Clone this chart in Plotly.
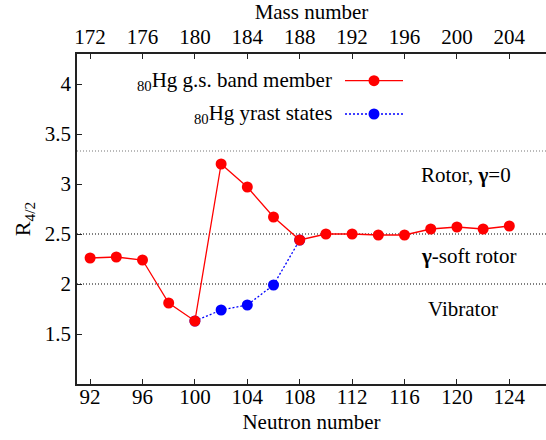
import plotly.graph_objects as go

# Data
neutrons_gs = [92, 94, 96, 98, 100, 102, 104, 106, 108, 110, 112, 114, 116, 118, 120, 122, 124]
r42_gs = [2.26, 2.27, 2.24, 1.81, 1.63, 3.20, 2.97, 2.67, 2.44, 2.50, 2.50, 2.49, 2.49, 2.55, 2.57, 2.55, 2.58]
neutrons_yrast = [100, 102, 104, 106, 108]
r42_yrast = [1.63, 1.74, 1.79, 1.99, 2.44]
Z = 80
ref_levels = [3.33, 2.5, 2.0]
ref_colors = ["#777777", "black", "black"]
region_labels = ["Rotor, <b>γ</b>=0", "<b>γ</b>-soft rotor", "Vibrator"]
region_x = [120.7, 120.9, 120.5]
region_y = [3.09, 2.28, 1.75]
legend_names = ["<sub>80</sub>Hg g.s. band member", "<sub>80</sub>Hg yrast states"]

FONT = "Liberation Serif, Times New Roman, serif"
FS = 21
W, H = 546, 440
ml, mr, mt, mb = 77, 0, 54, 56
xr = [91, 126.8]
yr = [1.0, 4.3]

fig = go.Figure()
fig.add_trace(go.Scatter(x=neutrons_yrast, y=r42_yrast, mode="lines+markers",
                         line=dict(color="blue", width=1.3, dash="2px,2px"),
                         marker=dict(color="blue", size=11), showlegend=False))
fig.add_trace(go.Scatter(x=neutrons_gs, y=r42_gs, mode="lines+markers",
                         line=dict(color="red", width=1.3),
                         marker=dict(color="red", size=11), showlegend=False))
# invisible trace to activate top (mass number) axis
fig.add_trace(go.Scatter(x=[n + Z for n in neutrons_gs], y=r42_gs, xaxis="x2",
                         mode="markers", marker=dict(opacity=0), hoverinfo="skip",
                         showlegend=False))

shapes = []
for lv, c in zip(ref_levels, ref_colors):
    shapes.append(dict(type="line", xref="paper", yref="y", x0=0, x1=1, y0=lv, y1=lv,
                       line=dict(color=c, width=1.1, dash="1px,2px"), layer="below"))

# manual legend (text left of symbol)
pw = W - ml - mr
ph = H - mt - mb
def px2x(p):
    return (p - ml) / pw
def py2y(p):
    return (H - mb - p) / ph

leg_rows = [80.7, 114]
leg_styles = [("red", "solid"), ("blue", "2px,2px")]
annotations = []
for name, row, (col, dash) in zip(legend_names, leg_rows, leg_styles):
    yy = py2y(row)
    shapes.append(dict(type="line", xref="paper", yref="paper", x0=px2x(345), x1=px2x(403),
                       y0=yy, y1=yy, line=dict(color=col, width=1.3, dash=dash)))
    shapes.append(dict(type="circle", xref="paper", yref="paper", xsizemode="pixel",
                       ysizemode="pixel", xanchor=px2x(374), yanchor=yy,
                       x0=-5.5, x1=5.5, y0=-5.5, y1=5.5,
                       fillcolor=col, line=dict(color=col, width=0)))
    annotations.append(dict(text=name, xref="paper", yref="paper", x=px2x(334), y=yy,
                            xanchor="right", yanchor="middle", showarrow=False,
                            font=dict(family=FONT, size=FS, color="black")))

for t, x, y in zip(region_labels, region_x, region_y):
    annotations.append(dict(text=t, x=x, y=y, xref="x", yref="y", showarrow=False,
                            xanchor="center", yanchor="middle",
                            font=dict(family=FONT, size=FS, color="black")))

axis_common = dict(showgrid=False, zeroline=False, showline=True, linecolor="#222222",
                   linewidth=1.5, ticks="inside", ticklen=5, tickwidth=1.2,
                   tickcolor="#222222", tickfont=dict(family=FONT, size=FS, color="black"))

fig.update_layout(
    width=W, height=H,
    margin=dict(l=ml, r=mr, t=mt, b=mb),
    paper_bgcolor="white", plot_bgcolor="white",
    font=dict(family=FONT, size=FS, color="black"),
    xaxis=dict(range=xr, tickmode="array", tickvals=list(range(92, 125, 4)),
               ticklabelstandoff=-7,
               title=dict(text="Neutron number", font=dict(family=FONT, size=FS), standoff=6),
               **axis_common),
    xaxis2=dict(range=[xr[0] + Z, xr[1] + Z], overlaying="x", side="top", anchor="y",
                tickmode="array", tickvals=list(range(172, 205, 4)),
                title=dict(text="Mass number", font=dict(family=FONT, size=FS), standoff=0),
                **axis_common),
    yaxis=dict(range=yr, tickmode="array", tickvals=[1.5, 2, 2.5, 3, 3.5, 4],
               ticktext=["1.5", "2", "2.5", "3", "3.5", "4"],
               title=dict(text="R<sub>4/2</sub>", font=dict(family=FONT, size=FS + 1), standoff=8),
               **axis_common),
    shapes=shapes, annotations=annotations, showlegend=False,
)

fig.write_html("out.html")
